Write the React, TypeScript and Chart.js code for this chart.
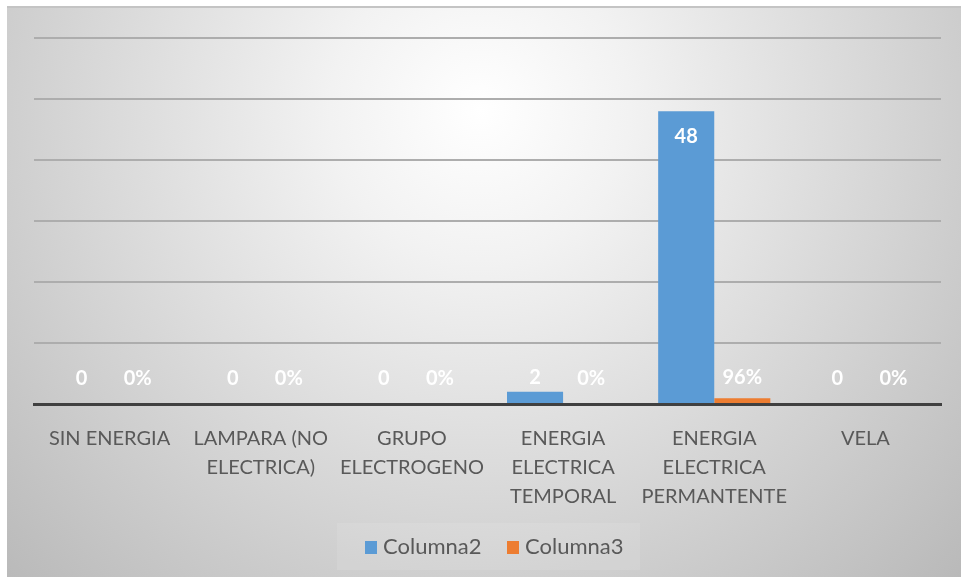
import React, { useEffect, useRef } from "react";
import { Chart, registerables } from "chart.js";

Chart.register(...registerables);

const categories: string[][] = [
  ["SIN ENERGIA"],
  ["LAMPARA (NO", "ELECTRICA)"],
  ["GRUPO", "ELECTROGENO"],
  ["ENERGIA", "ELECTRICA", "TEMPORAL"],
  ["ENERGIA", "ELECTRICA", "PERMANTENTE"],
  ["VELA"],
];
const columna2: number[] = [0, 0, 0, 2, 48, 0];
const columna3: number[] = [0, 0, 0, 0, 0.96, 0];
const seriesNames = ["Columna2", "Columna3"];
const seriesColors = ["#5B9BD5", "#ED7D31"];
const yMax = 60;
const yStep = 10;

const FONT = "Lato, 'Open Sans', sans-serif";

const bgPlugin = {
  id: "bgPlugin",
  beforeDraw(chart: any) {
    const { ctx, width, height } = chart;
    ctx.save();
    ctx.fillStyle = "#ffffff";
    ctx.fillRect(0, 0, width, height);
    const g = ctx.createRadialGradient(480, 110, 0, 480, 110, 680);
    g.addColorStop(0, "#ffffff");
    g.addColorStop(0.22, "#f2f2f2");
    g.addColorStop(1, "#b8b8b8");
    ctx.fillStyle = g;
    ctx.fillRect(7, 7, width - 7, height - 9);
    ctx.fillStyle = "#c4c4c4";
    ctx.fillRect(7, 6, width - 7, 2);
    ctx.restore();
  },
};

const labelPlugin = {
  id: "labelPlugin",
  afterDatasetsDraw(chart: any) {
    const { ctx } = chart;
    ctx.save();
    ctx.font = `bold 20px ${FONT}`;
    ctx.fillStyle = "#ffffff";
    ctx.textAlign = "center";
    ctx.textBaseline = "middle";
    chart.data.datasets.forEach((ds: any, di: number) => {
      const meta = chart.getDatasetMeta(di);
      meta.data.forEach((el: any, i: number) => {
        const v = ds.data[i];
        const txt = di === 0 ? String(v) : Math.round(v * 100) + "%";
        const y = Math.min(el.y + 25, el.base - 25);
        ctx.fillText(txt, el.x, y);
      });
    });
    ctx.restore();
  },
};

const legendPlugin = {
  id: "legendPlugin",
  afterDraw(chart: any) {
    const { ctx } = chart;
    ctx.save();
    ctx.fillStyle = "rgba(255,255,255,0.1)";
    ctx.fillRect(337, 523, 303, 47);
    ctx.font = `22px ${FONT}`;
    ctx.textBaseline = "middle";
    ctx.textAlign = "left";
    const xs = [365, 507];
    seriesNames.forEach((name, i) => {
      ctx.fillStyle = seriesColors[i];
      ctx.fillRect(xs[i], 541, 12, 13);
      ctx.fillStyle = "#595959";
      ctx.fillText(name, xs[i] + 18, 547);
    });
    ctx.restore();
  },
};

export default function App() {
  const ref = useRef<HTMLCanvasElement>(null);
  useEffect(() => {
    document.body.style.margin = "0";
    const chart = new Chart(ref.current as HTMLCanvasElement, {
      type: "bar",
      data: {
        labels: categories,
        datasets: [
          {
            label: seriesNames[0],
            data: columna2,
            backgroundColor: seriesColors[0],
            categoryPercentage: 0.742,
            barPercentage: 1,
          },
          {
            label: seriesNames[1],
            data: columna3,
            backgroundColor: seriesColors[1],
            categoryPercentage: 0.742,
            barPercentage: 1,
          },
        ],
      },
      options: {
        responsive: false,
        animation: false,
        layout: { padding: { left: 34, right: 20, top: 38, bottom: 0 } },
        plugins: {
          legend: { display: false },
          tooltip: { enabled: false },
        },
        scales: {
          x: {
            grid: { display: false },
            border: { display: true, color: "#404040", width: 3 },
            ticks: {
              color: "#595959",
              font: { family: FONT, size: 20, lineHeight: 1.45 },
              padding: 12,
              maxRotation: 0,
              autoSkip: false,
            },
            afterFit: (scale: any) => {
              scale.height = 175;
            },
          },
          y: {
            min: 0,
            max: yMax,
            ticks: { display: false, stepSize: yStep },
            grid: { color: "#adadad", lineWidth: 2, drawTicks: false },
            border: { display: false },
            afterFit: (scale: any) => {
              scale.width = 0;
            },
          },
        },
      },
      plugins: [bgPlugin, labelPlugin, legendPlugin],
    });
    return () => chart.destroy();
  }, []);
  return (
    <div style={{ width: 961, height: 579 }}>
      <canvas ref={ref} width={961} height={579} style={{ display: "block" }} />
    </div>
  );
}
